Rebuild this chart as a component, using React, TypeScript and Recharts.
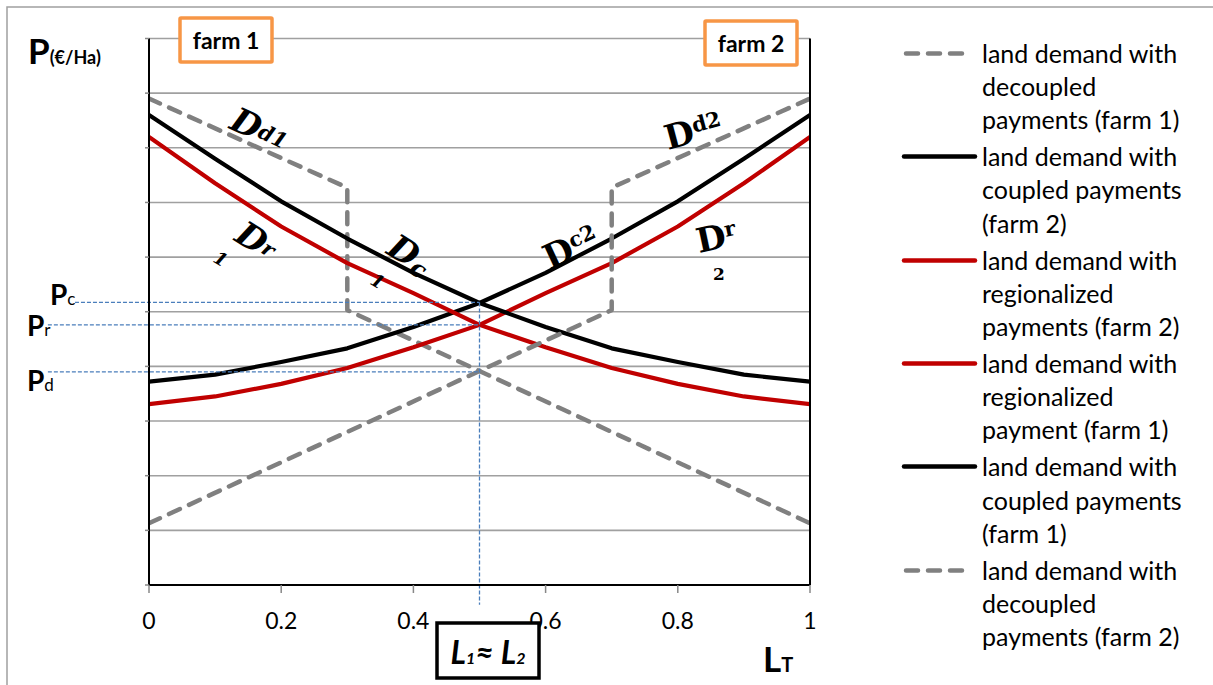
import React from 'react';
import { LineChart, Line, XAxis, YAxis, CartesianGrid, ReferenceLine } from 'recharts';

// ---- data ----
const LT_STEPS = [0, 0.1, 0.2, 0.3, 0.4, 0.5, 0.6, 0.7, 0.8, 0.9, 1];
const COUPLED_FARM1 = [8.6, 7.8, 7.02, 6.34, 5.71, 5.16, 4.72, 4.33, 4.08, 3.85, 3.72];
const COUPLED_FARM2 = [3.72, 3.85, 4.08, 4.33, 4.72, 5.16, 5.71, 6.34, 7.02, 7.8, 8.6];
const REGIONAL_FARM1 = [8.2, 7.35, 6.56, 5.89, 5.34, 4.76, 4.35, 3.97, 3.68, 3.45, 3.31];
const REGIONAL_FARM2 = [3.31, 3.45, 3.68, 3.97, 4.35, 4.76, 5.34, 5.89, 6.56, 7.35, 8.2];
const DECOUPLED_FARM1_X = [0, 0.3, 0.3, 1];
const DECOUPLED_FARM1_Y = [8.9, 7.27, 5.03, 1.13];
const DECOUPLED_FARM2_X = [0, 0.7, 0.7, 1];
const DECOUPLED_FARM2_Y = [1.13, 5.03, 7.27, 8.9];

const X_TICKS = [0, 0.2, 0.4, 0.6, 0.8, 1];
const X_TICK_LABELS = ['0', '0.2', '0.4', '0.6', '0.8', '1'];
const Y_TICKS = [0, 1, 2, 3, 4, 5, 6, 7, 8, 9, 10];

// equilibrium prices (Pc, Pr, Pd) and where their guide lines start on the left
const PRICE_NAMES = ['Pc', 'Pr', 'Pd'];
const PRICE_VALUES = [5.17, 4.76, 3.9];
const PRICE_GUIDE_START = [-0.112, -0.153, -0.153];
const EQUILIBRIUM_LT = 0.5;
const EQUILIBRIUM_GUIDE_BOTTOM = -0.36;

const zip = (xs: number[], ys: number[]) => xs.map((x, i) => ({ x, y: ys[i] }));

const GRAY = '#808080';
const RED = '#c00000';
const BLACK = '#000000';
const FONT = 'Lato, "Open Sans", sans-serif';
const SERIF = '"DejaVu Serif", serif';

const SERIES = [
  { key: 'd1', data: zip(DECOUPLED_FARM1_X, DECOUPLED_FARM1_Y), color: GRAY, dashed: true,
    legend: ['land demand with', 'decoupled', 'payments (farm 1)'] },
  { key: 'c2', data: zip(LT_STEPS, COUPLED_FARM2), color: BLACK, dashed: false,
    legend: ['land demand with', 'coupled payments', '(farm 2)'] },
  { key: 'r2', data: zip(LT_STEPS, REGIONAL_FARM2), color: RED, dashed: false,
    legend: ['land demand with', 'regionalized', 'payments (farm 2)'] },
  { key: 'r1', data: zip(LT_STEPS, REGIONAL_FARM1), color: RED, dashed: false,
    legend: ['land demand with', 'regionalized', 'payment (farm 1)'] },
  { key: 'c1', data: zip(LT_STEPS, COUPLED_FARM1), color: BLACK, dashed: false,
    legend: ['land demand with', 'coupled payments', '(farm 1)'] },
  { key: 'd2', data: zip(DECOUPLED_FARM2_X, DECOUPLED_FARM2_Y), color: GRAY, dashed: true,
    legend: ['land demand with', 'decoupled', 'payments (farm 2)'] },
];

const GUIDE_COLOR = '#4a7ebb';

export default function App() {
  return (
    <div
      style={{
        position: 'absolute',
        left: 0,
        top: 0,
        width: 1213,
        height: 685,
        background: '#fff',
        overflow: 'hidden',
      }}
    >
      <div style={{ position: 'absolute', left: 0, top: 0 }}>
        <LineChart
          width={1213}
          height={685}
          margin={{ top: 38.5, right: 393, bottom: 40, left: 139 }}
        >
          <CartesianGrid yAxisId="left" vertical={false} stroke="#a0a0a0" strokeWidth={1.6} />
          <XAxis
            type="number"
            dataKey="x"
            domain={[0, 1]}
            ticks={X_TICKS}
            tickFormatter={(v: number) => X_TICK_LABELS[X_TICKS.indexOf(v)] ?? String(v)}
            height={60}
            axisLine={{ stroke: '#000', strokeWidth: 2 }}
            tickLine={{ stroke: '#888', strokeWidth: 1.5 }}
            tickSize={8}
            tickMargin={20}
            tick={{ fill: '#000', fontSize: 23, fontFamily: FONT }}
            allowDataOverflow
          />
          <YAxis
            yAxisId="left"
            type="number"
            domain={[0, 10]}
            ticks={Y_TICKS}
            width={10}
            tickFormatter={() => ''}
            axisLine={{ stroke: '#000', strokeWidth: 2 }}
            tickLine={{ stroke: '#888', strokeWidth: 1.5 }}
            tickSize={4}
            allowDataOverflow
          />
          <YAxis
            yAxisId="right"
            orientation="right"
            type="number"
            domain={[0, 10]}
            width={10}
            tick={false}
            tickLine={false}
            axisLine={{ stroke: '#000', strokeWidth: 2 }}
          />
          {SERIES.map((s) => (
            <Line
              key={s.key}
              yAxisId="left"
              data={s.data}
              dataKey="y"
              type="linear"
              stroke={s.color}
              strokeWidth={s.dashed ? 4.5 : 4.2}
              strokeDasharray={s.dashed ? '12 10' : undefined}
              strokeLinecap={s.dashed ? 'round' : 'butt'}
              strokeLinejoin="round"
              dot={false}
              activeDot={false}
              isAnimationActive={false}
            />
          ))}
          {PRICE_VALUES.map((p, i) => (
            <ReferenceLine
              key={PRICE_NAMES[i]}
              yAxisId="left"
              segment={[
                { x: PRICE_GUIDE_START[i], y: p },
                { x: EQUILIBRIUM_LT, y: p },
              ]}
              stroke={GUIDE_COLOR}
              strokeWidth={1.2}
              strokeDasharray="4 2"
              ifOverflow="visible"
            />
          ))}
          <ReferenceLine
            yAxisId="left"
            segment={[
              { x: EQUILIBRIUM_LT, y: PRICE_VALUES[0] },
              { x: EQUILIBRIUM_LT, y: EQUILIBRIUM_GUIDE_BOTTOM },
            ]}
            stroke={GUIDE_COLOR}
            strokeWidth={1.3}
            strokeDasharray="4 2"
            ifOverflow="visible"
          />
        </LineChart>
      </div>

      {/* annotations overlay */}
      <svg
        width={1213}
        height={685}
        style={{ position: 'absolute', left: 0, top: 0, pointerEvents: 'none' }}
      >
        <rect x={7} y={7} width={1400} height={900} fill="none" stroke="#a0a0a0" strokeWidth={1.5} />

        {/* axis titles */}
        <text x={28} y={64} fontFamily={FONT} fontWeight="bold" fill="#000">
          <tspan fontSize={35}>P</tspan>
          <tspan fontSize={18}>(€/Ha)</tspan>
        </text>
        <text x={763} y={672} fontFamily={FONT} fontWeight="bold" fill="#000">
          <tspan fontSize={35}>L</tspan>
          <tspan fontSize={20}>T</tspan>
        </text>

        {/* price labels */}
        <text x={50} y={305} fontFamily={FONT} fill="#000">
          <tspan fontSize={28} fontWeight="bold">P</tspan>
          <tspan fontSize={17}>c</tspan>
        </text>
        <text x={27} y={336} fontFamily={FONT} fill="#000">
          <tspan fontSize={28} fontWeight="bold">P</tspan>
          <tspan fontSize={17}>r</tspan>
        </text>
        <text x={27} y={391} fontFamily={FONT} fill="#000">
          <tspan fontSize={28} fontWeight="bold">P</tspan>
          <tspan fontSize={17}>d</tspan>
        </text>

        {/* farm boxes */}
        <rect x={180} y={18} width={92} height={44} fill="#fff" stroke="#f79646" strokeWidth={3.5} rx={1} />
        <text x={226} y={49} textAnchor="middle" fontFamily={FONT} fontWeight="bold" fontSize={23} fill="#000">
          farm 1
        </text>
        <rect x={705} y={21} width={92} height={44} fill="#fff" stroke="#f79646" strokeWidth={3.5} rx={1} />
        <text x={751} y={52} textAnchor="middle" fontFamily={FONT} fontWeight="bold" fontSize={23} fill="#000">
          farm 2
        </text>

        {/* L1 ≈ L2 box */}
        <rect x={437} y={623} width={102} height={55} fill="#fff" stroke="#000" strokeWidth={3.5} />
        <text x={488} y={664} textAnchor="middle" fontFamily={FONT} fontWeight="bold" fontStyle="italic" fill="#000">
          <tspan fontSize={32}>L</tspan>
          <tspan fontSize={16}>1</tspan>
          <tspan fontSize={32}>≈ L</tspan>
          <tspan fontSize={16}>2</tspan>
        </text>

        {/* curve labels */}
        <g transform="translate(228,128) rotate(25)">
          <text fontFamily={SERIF} fontStyle="italic" fontWeight="bold" fill="#000">
            <tspan fontSize={34}>D</tspan>
            <tspan fontSize={21} dy={-4}>d1</tspan>
          </text>
        </g>
        <g transform="translate(233,240) rotate(32)">
          <text fontFamily={SERIF} fontStyle="italic" fontWeight="bold" fill="#000">
            <tspan fontSize={34}>D</tspan>
            <tspan fontSize={21} dy={-4}>r</tspan>
          </text>
        </g>
        <text x={214} y={266} transform="rotate(30 222 260)" fontFamily={SERIF} fontStyle="italic" fontWeight="bold" fontSize={18} fill="#000">1</text>

        <g transform="translate(385,253) rotate(32)">
          <text fontFamily={SERIF} fontStyle="italic" fontWeight="bold" fill="#000">
            <tspan fontSize={34}>D</tspan>
            <tspan fontSize={24} dy={4}>c</tspan>
          </text>
        </g>
        <text x={372} y={288} transform="rotate(30 379 280)" fontFamily={SERIF} fontStyle="italic" fontWeight="bold" fontSize={18} fill="#000">1</text>

        <g transform="translate(550,270) rotate(-25)">
          <text fontFamily={SERIF} fontWeight="bold" fill="#000">
            <tspan fontSize={34}>D</tspan>
            <tspan fontSize={21} dy={-10}>c2</tspan>
          </text>
        </g>

        <g transform="translate(668,150) rotate(-15)">
          <text fontFamily={SERIF} fontWeight="bold" fill="#000">
            <tspan fontSize={34}>D</tspan>
            <tspan fontSize={21} dy={-10}>d2</tspan>
          </text>
        </g>

        <g transform="translate(699,253) rotate(-12)">
          <text fontFamily={SERIF} fontWeight="bold" fill="#000">
            <tspan fontSize={34}>D</tspan>
            <tspan fontSize={21} dy={-10}>r</tspan>
          </text>
        </g>
        <text x={713} y={280} fontFamily={SERIF} fontWeight="bold" fontSize={17} fill="#000">2</text>
      </svg>

      {/* legend */}
      {SERIES.map((s, i) => {
        const top = 36.7 + i * 103.4;
        return (
          <div key={s.key} style={{ position: 'absolute', left: 900, top, width: 313 }}>
            <svg width={80} height={34} style={{ position: 'absolute', left: 0, top: 0 }}>
              <line
                x1={s.dashed ? 6 : 4}
                y1={16.6}
                x2={s.dashed ? 66 : 75}
                y2={16.6}
                stroke={s.color}
                strokeWidth={4.5}
                strokeDasharray={s.dashed ? '12 10' : undefined}
                strokeLinecap="round"
              />
            </svg>
            <div
              style={{
                position: 'absolute',
                left: 82,
                top: 0,
                fontFamily: FONT,
                fontSize: 25,
                lineHeight: '33.3px',
                color: '#000',
                whiteSpace: 'nowrap',
              }}
            >
              {s.legend.map((t, j) => (
                <div key={j}>{t}</div>
              ))}
            </div>
          </div>
        );
      })}
    </div>
  );
}
